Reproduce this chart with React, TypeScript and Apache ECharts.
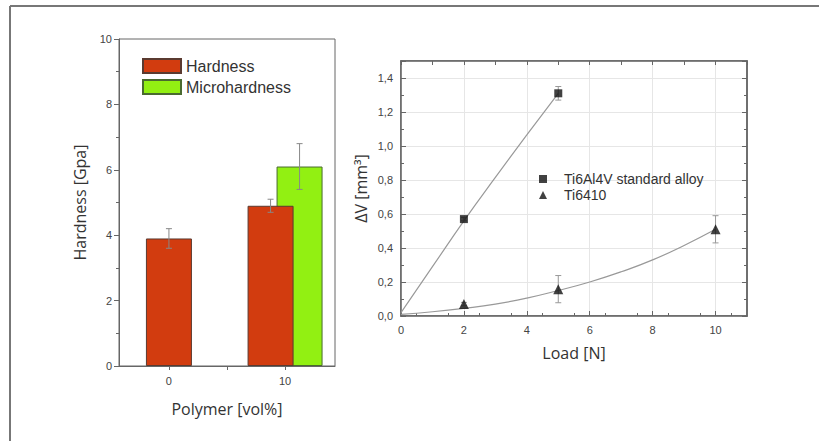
import React, { useEffect, useRef } from "react";
import * as echarts from "echarts";

// ---- Left chart: hardness bars ----
const polymerTicks = [0, 10];
const hardnessX = [0, 10];
const hardnessVal = [3.9, 4.9];
const hardnessErr = [0.3, 0.2];
const microX = [10];
const microVal = [6.1];
const microErr = [0.7];

// ---- Right chart: wear volume ----
const loadTicks = [0, 2, 4, 6, 8, 10];
const ti64Load = [2, 5];
const ti64DV = [0.57, 1.31];
const ti64Err = [0.01, 0.04];
const ti6410Load = [2, 5, 10];
const ti6410DV = [0.07, 0.158, 0.51];
const ti6410Err = [0.01, 0.08, 0.08];
const ti64FitLoad = [0, 1, 2, 3, 4, 5];
const ti64FitDV = [0.02, 0.29, 0.56, 0.815, 1.065, 1.31];
const ti6410FitLoad = [0, 1, 2, 3, 4, 5, 6, 7, 8, 9, 10];
const ti6410FitDV = [0.01, 0.025, 0.045, 0.07, 0.105, 0.15, 0.2, 0.26, 0.33, 0.415, 0.51];

const RED = "#d23c0f";
const GREEN = "#92f012";
const BAR_W = 46;
const BAR_GAP = "-37%";
const GROUP_OFF = 14.5;

function errSeries(name: string, xs: number[], ys: number[], errs: number[], xi: number, yi: number, off: number, color: string, cap: number) {
  return {
    type: "custom",
    name,
    xAxisIndex: xi,
    yAxisIndex: yi,
    z: 10,
    silent: true,
    encode: { x: 0, y: [1, 2] },
    data: xs.map((x, i) => [x, ys[i] - errs[i], ys[i] + errs[i]]),
    renderItem: (params: any, api: any) => {
      const x = api.value(0);
      const lo = api.coord([x, api.value(1)]);
      const hi = api.coord([x, api.value(2)]);
      const cx = lo[0] + off;
      const style = { stroke: color, lineWidth: 1 };
      return {
        type: "group",
        children: [
          { type: "line", shape: { x1: cx, y1: lo[1], x2: cx, y2: hi[1] }, style },
          { type: "line", shape: { x1: cx - cap, y1: hi[1], x2: cx + cap, y2: hi[1] }, style },
          { type: "line", shape: { x1: cx - cap, y1: lo[1], x2: cx + cap, y2: lo[1] }, style },
        ],
      };
    },
  };
}

const tickFont = { fontFamily: "Liberation Sans, Arial, sans-serif", fontSize: 11, color: "#444" };
const nameFont = { fontFamily: "Open Sans, sans-serif", fontSize: 16, color: "#333" };

export default function App() {
  const ref = useRef<HTMLDivElement>(null);
  useEffect(() => {
    if (!ref.current) return;
    const chart = echarts.init(ref.current, undefined, { renderer: "svg" });
    const option: any = {
      animation: false,
      backgroundColor: "#fff",
      graphic: [
        { type: "line", shape: { x1: 10, y1: 6, x2: 819, y2: 6 }, style: { stroke: "#777", lineWidth: 2 } },
        { type: "line", shape: { x1: 10, y1: 6, x2: 10, y2: 441 }, style: { stroke: "#777", lineWidth: 2 } },
      ],
      legend: [
        {
          data: [
            { name: "Hardness", icon: "rect" },
            { name: "Microhardness", icon: "rect" },
          ],
          orient: "vertical",
          left: 142,
          top: 58,
          padding: 0,
          itemWidth: 38,
          itemHeight: 14,
          itemGap: 5,
          textStyle: { fontFamily: "Liberation Sans, Arial, sans-serif", fontSize: 16, color: "#333" },
          selectedMode: false,
        },
        {
          data: [
            { name: "Ti6Al4V standard alloy", icon: "rect" },
            { name: "Ti6410", icon: "triangle" },
          ],
          orient: "vertical",
          left: 539,
          top: 172,
          padding: 0,
          itemWidth: 8,
          itemHeight: 8,
          itemGap: 2,
          textStyle: {
            fontFamily: "Liberation Sans, Arial, sans-serif",
            fontSize: 14,
            color: "#333",
            padding: [0, 0, 0, 12],
          },
          selectedMode: false,
        },
      ],
      grid: [
        { left: 119, top: 39, width: 216, height: 327, show: true, borderColor: "#666", borderWidth: 1 },
        { left: 401, top: 61, width: 346, height: 255, show: true, borderColor: "#666", borderWidth: 1.5 },
      ],
      xAxis: [
        {
          gridIndex: 0,
          type: "value",
          min: -4.3,
          max: 14.3,
          name: "Polymer [vol%]",
          nameLocation: "middle",
          nameGap: 35,
          nameTextStyle: nameFont,
          axisLine: { onZero: false, lineStyle: { color: "#666" } },
          axisTick: { show: true, inside: false, length: 4, customValues: [0, 5, 10], lineStyle: { color: "#666" } },
          axisLabel: { ...tickFont, margin: 9, customValues: polymerTicks },
          splitLine: { show: false },
        },
        {
          gridIndex: 0,
          type: "value",
          min: -4.3,
          max: 14.3,
          show: false,
        },
        {
          gridIndex: 1,
          type: "value",
          min: 0,
          max: 11,
          name: "Load [N]",
          nameLocation: "middle",
          nameGap: 29,
          nameTextStyle: nameFont,
          axisLine: { onZero: false, lineStyle: { color: "#666", width: 1.5 } },
          axisTick: { inside: true, length: 5, customValues: loadTicks, lineStyle: { color: "#666" } },
          minorTick: { show: true, splitNumber: 2, length: 3, lineStyle: { color: "#666" } },
          axisLabel: { ...tickFont, margin: 8, customValues: loadTicks },
          splitLine: { show: true, lineStyle: { color: "#e6e6e6" } },
          interval: 1,
        },
        {
          gridIndex: 1,
          type: "value",
          position: "top",
          min: 0,
          max: 11,
          interval: 1,
          axisLine: { onZero: false, lineStyle: { color: "#666", width: 1.5 } },
          axisTick: { inside: true, length: 4, lineStyle: { color: "#666" } },
          axisLabel: { show: false },
          splitLine: { show: false },
        },
      ],
      yAxis: [
        {
          gridIndex: 0,
          type: "value",
          min: 0,
          max: 10,
          interval: 2,
          name: "Hardness [Gpa]",
          nameLocation: "middle",
          nameGap: 31,
          nameTextStyle: nameFont,
          axisLine: { show: true, onZero: false, lineStyle: { color: "#666" } },
          axisTick: { show: true, inside: false, length: 5, lineStyle: { color: "#666" } },
          minorTick: { show: true, splitNumber: 2, length: 3, lineStyle: { color: "#666" } },
          axisLabel: { ...tickFont, margin: 7 },
          splitLine: { show: false },
        },
        {
          gridIndex: 1,
          type: "value",
          min: 0,
          max: 1.5,
          interval: 0.2,
          name: "ΔV [mm³]",
          nameLocation: "middle",
          nameGap: 32,
          nameTextStyle: nameFont,
          axisLine: { show: true, onZero: false, lineStyle: { color: "#666", width: 1.5 } },
          axisTick: { show: true, inside: true, length: 5, lineStyle: { color: "#666" } },
          minorTick: { show: true, splitNumber: 2, length: 3, lineStyle: { color: "#666" } },
          axisLabel: {
            ...tickFont,
            margin: 8,
            showMaxLabel: false,
            formatter: (v: number) => (Math.abs(v - 1.5) < 1e-6 ? "" : v.toFixed(1).replace(".", ",")),
          },
          splitLine: { show: true, lineStyle: { color: "#e6e6e6" } },
        },
        {
          gridIndex: 1,
          type: "value",
          position: "right",
          min: 0,
          max: 1.5,
          interval: 0.2,
          axisLine: { show: true, onZero: false, lineStyle: { color: "#666", width: 1.5 } },
          axisTick: { show: true, inside: true, length: 5, lineStyle: { color: "#666" } },
          minorTick: { show: true, splitNumber: 2, length: 3, lineStyle: { color: "#666" } },
          axisLabel: { show: false },
          splitLine: { show: false },
        },
      ],
      series: [
        {
          type: "bar",
          name: "Hardness",
          xAxisIndex: 0,
          yAxisIndex: 0,
          barWidth: BAR_W,
          itemStyle: { color: RED, borderColor: "#5a3a30", borderWidth: 1 },
          data: [[hardnessX[0], hardnessVal[0]]],
        },
        {
          type: "bar",
          name: "Hardness",
          xAxisIndex: 1,
          yAxisIndex: 0,
          barWidth: BAR_W,
          barGap: BAR_GAP,
          z: 3,
          itemStyle: { color: RED, borderColor: "#5a3a30", borderWidth: 1 },
          data: [[hardnessX[1], hardnessVal[1]]],
        },
        {
          type: "bar",
          name: "Microhardness",
          xAxisIndex: 1,
          yAxisIndex: 0,
          barWidth: BAR_W,
          barGap: BAR_GAP,
          z: 2,
          itemStyle: { color: GREEN, borderColor: "#4a6a30", borderWidth: 1 },
          data: microX.map((x, i) => [x, microVal[i]]),
        },
        errSeries("errH0", [hardnessX[0]], [hardnessVal[0]], [hardnessErr[0]], 0, 0, 0, "#888", 3),
        errSeries("errH1", [hardnessX[1]], [hardnessVal[1]], [hardnessErr[1]], 1, 0, -GROUP_OFF, "#888", 3),
        errSeries("errM", microX, microVal, microErr, 1, 0, GROUP_OFF, "#888", 3),
        {
          type: "line",
          name: "fit64",
          xAxisIndex: 2,
          yAxisIndex: 1,
          smooth: true,
          symbol: "none",
          silent: true,
          lineStyle: { color: "#999", width: 1.2 },
          data: ti64FitLoad.map((x, i) => [x, ti64FitDV[i]]),
        },
        {
          type: "line",
          name: "fit6410",
          xAxisIndex: 2,
          yAxisIndex: 1,
          smooth: true,
          symbol: "none",
          silent: true,
          lineStyle: { color: "#999", width: 1.2 },
          data: ti6410FitLoad.map((x, i) => [x, ti6410FitDV[i]]),
        },
        errSeries("err64", ti64Load, ti64DV, ti64Err, 2, 1, 0, "#999", 3),
        errSeries("err6410", ti6410Load, ti6410DV, ti6410Err, 2, 1, 0, "#999", 3),
        {
          type: "scatter",
          name: "Ti6Al4V standard alloy",
          xAxisIndex: 2,
          yAxisIndex: 1,
          symbol: "rect",
          symbolSize: 8,
          z: 12,
          itemStyle: { color: "#111" },
          data: ti64Load.map((x, i) => [x, ti64DV[i]]),
        },
        {
          type: "scatter",
          name: "Ti6410",
          xAxisIndex: 2,
          yAxisIndex: 1,
          symbol: "triangle",
          symbolSize: 10,
          z: 12,
          itemStyle: { color: "#111" },
          data: ti6410Load.map((x, i) => [x, ti6410DV[i]]),
        },
      ],
    };
    chart.setOption(option);
    return () => chart.dispose();
  }, []);
  return (
    <div
      ref={ref}
      style={{ position: "fixed", left: 0, top: 0, width: 819, height: 441, background: "#fff" }}
    />
  );
}
